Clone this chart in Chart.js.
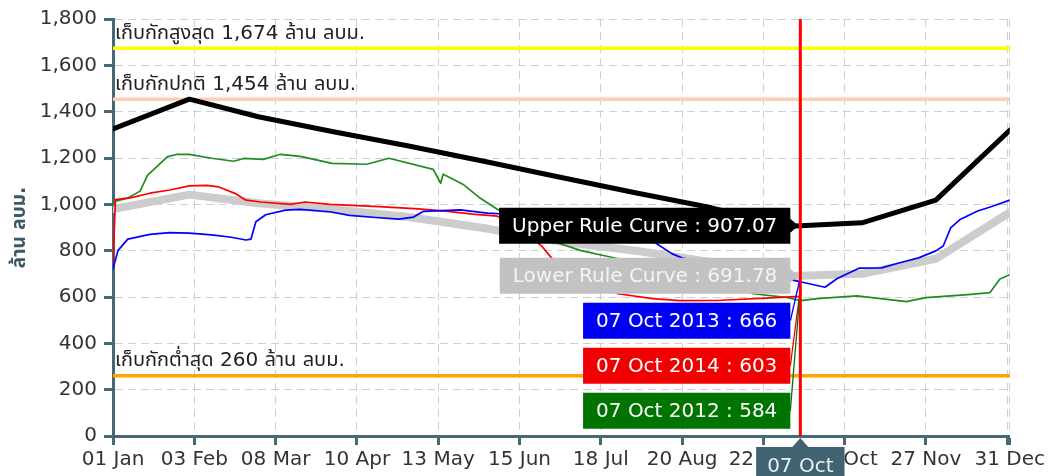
<!DOCTYPE html>
<html><head><meta charset="utf-8">
<script src="https://cdn.jsdelivr.net/npm/chart.js@4.4.1/dist/chart.umd.min.js"></script>
<style>html,body{margin:0;padding:0;background:#fff;overflow:hidden}</style>
</head><body>
<canvas id="c" width="1048" height="476"></canvas>
<script>
// ---- data (day of year, 0 = 01 Jan) ----
const ruleDays   = [0, 31, 59, 90, 120, 151, 181, 212, 243, 273, 279, 304, 334, 364];
const upperRule  = [1325, 1454, 1378, 1312, 1252, 1185, 1118, 1050, 985, 904, 907.07, 920, 1018, 1320];
const lowerRule  = [980, 1042, 1005, 978, 945, 897, 840, 800, 750, 690, 691.78, 700, 765, 965];

const days2013   = [0, 2, 6, 15, 23, 31, 40, 48, 54, 56, 58, 62, 70, 76, 88, 96, 108, 116, 122, 126, 141, 152, 165, 185, 200, 212, 219, 227, 231, 245, 262, 279, 289, 294, 303, 312, 319, 327, 334, 337, 340, 344, 351, 357, 364];
const values2013 = [722, 800, 850, 870, 878, 876, 868, 858, 846, 850, 925, 955, 975, 978, 968, 952, 942, 936, 945, 970, 976, 962, 955, 948, 935, 905, 842, 786, 769, 735, 700, 666, 642, 680, 725, 726, 747, 769, 799, 820, 898, 936, 971, 992, 1018];

const days2014   = [0, 1, 4, 7, 15, 23, 31, 38, 43, 50, 54, 60, 72, 78, 88, 108, 124, 136, 146, 156, 165, 174, 178, 190, 205, 219, 230, 245, 265, 279];
const values2014 = [743, 1020, 1025, 1028, 1048, 1062, 1080, 1082, 1075, 1045, 1018, 1010, 1000, 1010, 1000, 990, 980, 970, 958, 949, 900, 820, 769, 680, 614, 593, 584, 585, 595, 603];

const days2012   = [0, 1, 6, 11, 14, 18, 22, 26, 31, 40, 49, 53, 61, 68, 76, 89, 103, 112, 130, 133, 134, 142, 149, 156, 165, 180, 190, 200, 219, 226, 246, 260, 274, 279, 286, 302, 322, 330, 347, 356, 360, 364];
const values2012 = [995, 1014, 1027, 1057, 1125, 1165, 1205, 1216, 1216, 1199, 1186, 1198, 1194, 1216, 1207, 1177, 1173, 1199, 1151, 1091, 1130, 1087, 1027, 979, 930, 835, 800, 777, 734, 726, 670, 614, 597, 584, 593, 605, 580, 597, 610, 619, 678, 696];

const xTickDays   = [0, 33, 66, 99, 132, 165, 198, 231, 264, 297, 330, 363, 364];
const xTickLabels = ['01 Jan', '03 Feb', '08 Mar', '10 Apr', '13 May', '15 Jun', '18 Jul', '20 Aug', '22 Sep', '25 Oct', '27 Nov', '', '31 Dec'];
const yTickValues = [0, 200, 400, 600, 800, 1000, 1200, 1400, 1600, 1800];

const plotLineValues = [1674, 1454, 260];
const plotLineLabels = ['เก็บกักสูงสุด 1,674 ล้าน ลบม.', 'เก็บกักปกติ 1,454 ล้าน ลบม.', 'เก็บกักต่ำสุด 260 ล้าน ลบม.'];
const yAxisTitle = 'ล้าน ลบม.';
const cursorDay = 279;
const cursorLabel = '07 Oct';

// ---- styling ----
const FONT = "'DejaVu Sans', 'Noto Sans', 'Noto Sans Thai', sans-serif";
const AXIS = '#476977';
const GRID = '#c9d1d8';
const pts = (d, v) => d.map((x, i) => ({x: x, y: v[i]}));

const datasets = [
  {label: 'Upper Rule Curve', data: pts(ruleDays, upperRule), borderColor: '#000', borderWidth: 5, order: 0,
   tipName: 'Upper Rule Curve', tipFill: '#000', tipText: '#fff', dec: 2},
  {label: '2013', data: pts(days2013, values2013), borderColor: '#0000ff', borderWidth: 1.7, order: 1,
   tipName: cursorLabel + ' 2013', tipFill: '#0000f4', tipText: '#fff', dec: 0},
  {label: '2014', data: pts(days2014, values2014), borderColor: '#ff0000', borderWidth: 1.7, order: 2,
   tipName: cursorLabel + ' 2014', tipFill: '#f00000', tipText: '#fff', dec: 0},
  {label: '2012', data: pts(days2012, values2012), borderColor: '#1e8c1e', borderWidth: 1.7, order: 3,
   tipName: cursorLabel + ' 2012', tipFill: '#007400', tipText: '#fff', dec: 0},
  {label: 'Lower Rule Curve', data: pts(ruleDays, lowerRule), borderColor: '#cccccc', borderWidth: 8, order: 4,
   tipName: 'Lower Rule Curve', tipFill: '#c2c2c2', tipText: '#f4f4f4', dec: 2}
];

const plotLinesPlugin = {
  id: 'plotLines',
  beforeDatasetsDraw(chart) {
    const {ctx, chartArea: a, scales: {y}} = chart;
    const colors = ['#ffff00', '#ffcdb9', '#ffa500'];
    ctx.save();
    plotLineValues.forEach((v, i) => {
      const py = y.getPixelForValue(v);
      ctx.strokeStyle = colors[i]; ctx.lineWidth = 3.5;
      ctx.beginPath(); ctx.moveTo(a.left, py); ctx.lineTo(a.right, py); ctx.stroke();
      ctx.fillStyle = '#222'; ctx.font = '20px ' + FONT; ctx.textBaseline = 'alphabetic'; ctx.textAlign = 'left';
      ctx.fillText(plotLineLabels[i], a.left + 2, py - 9.5);
    });
    ctx.restore();
  }
};

const cursorPlugin = {
  id: 'cursor',
  afterDraw(chart) {
    const {ctx, chartArea: a, scales: {x, y}} = chart;
    const px = x.getPixelForValue(cursorDay);
    ctx.save();
    // red crosshair
    ctx.strokeStyle = '#ff0000'; ctx.lineWidth = 3;
    ctx.beginPath(); ctx.moveTo(px, a.top); ctx.lineTo(px, a.bottom); ctx.stroke();

    // split tooltips
    ctx.font = '20px ' + FONT;
    const items = chart.data.datasets.map(ds => {
      const p = ds.data.find(q => q.x === cursorDay);
      return {text: ds.tipName + ' : ' + p.y.toFixed(ds.dec), py: y.getPixelForValue(p.y), fill: ds.tipFill, color: ds.tipText};
    }).sort((m, n) => m.py - n.py);
    const h = 36, gap = 9, padX = 13, right = px - 10;
    let prevBottom = -1e9;
    items.forEach(it => {
      let top = it.py - h / 2;
      if (top < prevBottom + gap) top = prevBottom + gap;
      prevBottom = top + h;
      const w = ctx.measureText(it.text).width + 2 * padX;
      const left = right - w;
      const inside = it.py > top + 10 && it.py < top + h - 10;
      ctx.fillStyle = it.fill;
      ctx.beginPath();
      ctx.moveTo(left, top); ctx.lineTo(right, top);
      if (inside) {
        ctx.lineTo(right, it.py - 7); ctx.lineTo(px - 2, it.py); ctx.lineTo(right, it.py + 7);
      }
      ctx.lineTo(right, top + h); ctx.lineTo(left, top + h); ctx.closePath(); ctx.fill();
      if (!inside) {
        ctx.strokeStyle = it.fill; ctx.lineWidth = 1.3;
        ctx.beginPath(); ctx.moveTo(right, top + h / 2); ctx.lineTo(px - 1, it.py); ctx.stroke();
      }
      ctx.fillStyle = it.color; ctx.textAlign = 'left'; ctx.textBaseline = 'middle';
      ctx.fillText(it.text, left + padX, top + h / 2 + 1);
    });

    // x-axis crosshair label
    ctx.font = '20px ' + FONT;
    const tw = ctx.measureText(cursorLabel).width + 22;
    const bTop = a.bottom + 11;
    ctx.fillStyle = '#41626f';
    ctx.beginPath();
    ctx.moveTo(px - tw / 2, bTop); ctx.lineTo(px - 8, bTop); ctx.lineTo(px, a.bottom + 2); ctx.lineTo(px + 8, bTop);
    ctx.lineTo(px + tw / 2, bTop); ctx.lineTo(px + tw / 2, bTop + 40); ctx.lineTo(px - tw / 2, bTop + 40); ctx.closePath(); ctx.fill();
    ctx.fillStyle = '#e8eff2'; ctx.textAlign = 'center'; ctx.textBaseline = 'alphabetic';
    ctx.fillText(cursorLabel, px, bTop + 25);
    ctx.restore();
  }
};

new Chart(document.getElementById('c'), {
  type: 'line',
  data: {datasets: datasets},
  options: {
    responsive: false, animation: false, events: [],
    layout: {padding: {top: 17, right: 38, left: 0, bottom: 0}},
    elements: {point: {radius: 0}, line: {tension: 0, fill: false, borderJoinStyle: 'round', borderCapStyle: 'round'}},
    plugins: {legend: {display: false}, tooltip: {enabled: false}},
    scales: {
      x: {
        type: 'linear', min: 0, max: 364,
        afterBuildTicks: s => { s.ticks = xTickDays.map(v => ({value: v})); },
        afterFit: s => { s.height = 40; },
        ticks: {autoSkip: false, maxRotation: 0, padding: 3, color: '#333', font: {family: FONT, size: 20},
                callback: (v, i) => xTickLabels[i]},
        grid: {color: GRID, lineWidth: 1, tickColor: AXIS, tickWidth: 3, tickLength: 9},
        border: {color: AXIS, width: 3, dash: [8, 5]}
      },
      y: {
        min: 0, max: 1800,
        afterBuildTicks: s => { s.ticks = yTickValues.map(v => ({value: v})); },
        afterFit: s => { s.width = 113; },
        ticks: {padding: 7, color: '#333', font: {family: FONT, size: 20},
                callback: v => v.toLocaleString('en-US')},
        title: {display: true, text: yAxisTitle, color: '#3a5865', font: {family: FONT, size: 19, weight: 'bold'}, padding: {top: 9, bottom: 0}},
        grid: {color: GRID, lineWidth: 1, tickColor: AXIS, tickWidth: 3, tickLength: 9},
        border: {color: AXIS, width: 3, dash: [8, 5]}
      }
    }
  },
  plugins: [plotLinesPlugin, cursorPlugin]
});
</script>
</body></html>
